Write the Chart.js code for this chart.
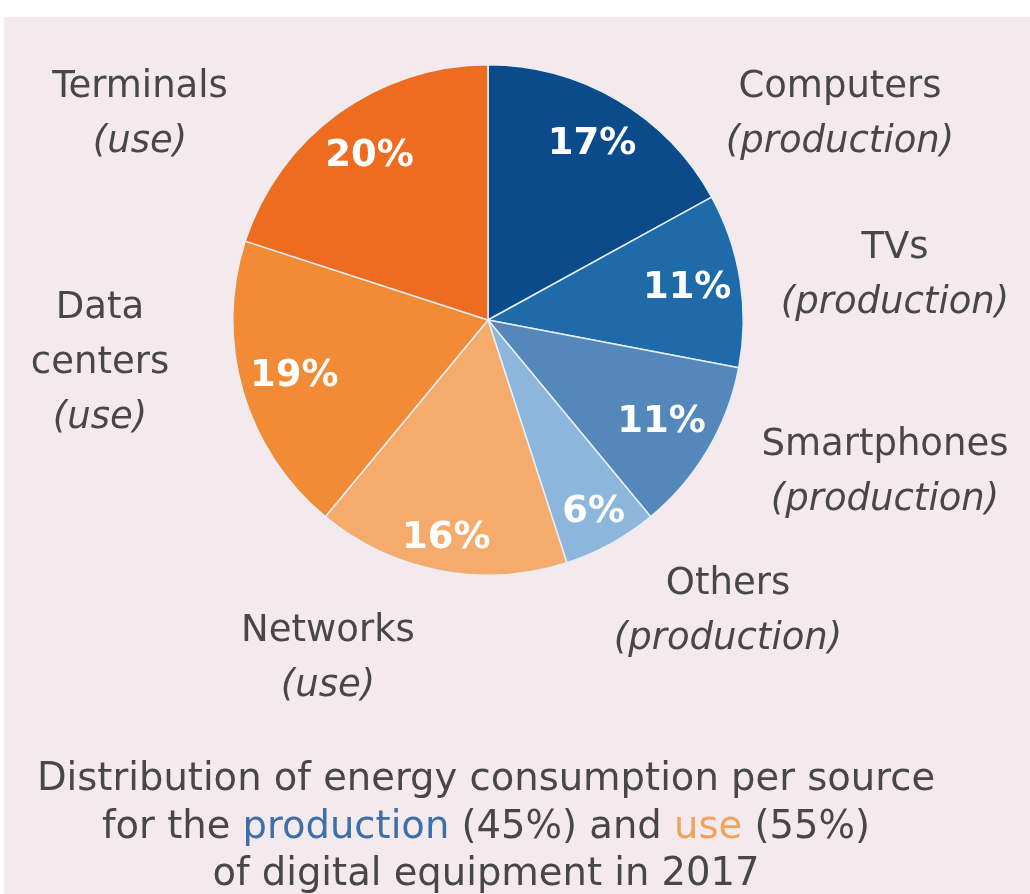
<!DOCTYPE html>
<html>
<head>
<meta charset="utf-8">
<script src="https://cdn.jsdelivr.net/npm/chart.js@4/dist/chart.umd.min.js"></script>
<style>
  html, body { margin: 0; padding: 0; background: #ffffff; }
  #wrap { position: absolute; left: 0; top: 0; width: 1030px; height: 894px; }
  #panel { position: absolute; left: 4px; top: 17px; right: 0; bottom: 0; background: #f4e9ed; }
  canvas { position: absolute; left: 0; top: 0; }
</style>
</head>
<body>
<div id="wrap">
  <div id="panel"></div>
  <canvas id="c" width="1030" height="894"></canvas>
</div>
<script>
// ---- data ----
const categories = ["Computers", "TVs", "Smartphones", "Others", "Networks", "Data centers", "Terminals"];
const kinds = ["production", "production", "production", "production", "use", "use", "use"];
const shares = [17, 11, 11, 6, 16, 19, 20];
const pctLabels = ["17%", "11%", "11%", "6%", "16%", "19%", "20%"];
const sliceColors = ["#0b4a8b", "#1f6aa8", "#5488bb", "#8db6dc", "#f5ab6b", "#f18b35", "#ee6c1f"];
const titleLines = [
  [["Distribution of energy consumption per source", "#474747"]],
  [["for the ", "#474747"], ["production", "#3d6fa8"], [" (45%) and ", "#474747"], ["use", "#f0a35a"], [" (55%)", "#474747"]],
  [["of digital equipment in 2017", "#474747"]]
];

// ---- layout of outside labels (text placement only) ----
const outerLayout = [
  { x: 840, y: 97,  lines: ["Computers"] },
  { x: 895, y: 258, lines: ["TVs"] },
  { x: 885, y: 455, lines: ["Smartphones"] },
  { x: 728, y: 594, lines: ["Others"] },
  { x: 328, y: 641, lines: ["Networks"] },
  { x: 100, y: 318, lines: ["Data", "centers"] },
  { x: 140, y: 97,  lines: ["Terminals"] }
];
const pctRadius = [0.80, 0.79, 0.79, 0.86, 0.87, 0.79, 0.79];

const FONT = '"DejaVu Sans", Verdana, sans-serif';

const labelPlugin = {
  id: 'labelPlugin',
  afterDraw(chart) {
    const ctx = chart.ctx;
    const meta = chart.getDatasetMeta(0);
    ctx.save();
    // percentages inside slices
    ctx.font = 'bold 37px "DejaVu Sans", Verdana, sans-serif';
    ctx.fillStyle = '#ffffff';
    ctx.textAlign = 'center';
    ctx.textBaseline = 'middle';
    meta.data.forEach((arc, i) => {
      const p = arc.getProps(['x', 'y', 'startAngle', 'endAngle', 'outerRadius'], true);
      const mid = (p.startAngle + p.endAngle) / 2;
      const r = p.outerRadius * pctRadius[i];
      ctx.fillText(pctLabels[i], p.x + Math.cos(mid) * r, p.y + Math.sin(mid) * r);
    });
    // outside labels
    ctx.fillStyle = '#474747';
    ctx.textBaseline = 'alphabetic';
    const lh = 55;
    outerLayout.forEach((L, i) => {
      let y = L.y;
      ctx.font = '37px ' + FONT;
      L.lines.forEach(t => { ctx.fillText(t, L.x, y); y += lh; });
      ctx.font = 'italic 37px ' + FONT;
      ctx.fillText('(' + kinds[i] + ')', L.x, y);
    });
    // title
    ctx.font = '38.5px ' + FONT;
    ctx.textAlign = 'left';
    const baselines = [790, 838, 885];
    titleLines.forEach((parts, li) => {
      const full = parts.map(p => p[0]).join('');
      let x = 486 - ctx.measureText(full).width / 2;
      parts.forEach(([t, c]) => {
        ctx.fillStyle = c;
        ctx.fillText(t, x, baselines[li]);
        x += ctx.measureText(t).width;
      });
    });
    ctx.restore();
  }
};

new Chart(document.getElementById('c'), {
  type: 'pie',
  data: {
    labels: categories,
    datasets: [{
      data: shares,
      backgroundColor: sliceColors,
      borderColor: '#e6eef6',
      borderWidth: 1.5
    }]
  },
  options: {
    responsive: false,
    maintainAspectRatio: false,
    animation: false,
    layout: { padding: { left: 232, right: 286, top: 64, bottom: 318 } },
    plugins: { legend: { display: false }, tooltip: { enabled: false }, title: { display: false } }
  },
  plugins: [labelPlugin]
});
</script>
</body>
</html>
